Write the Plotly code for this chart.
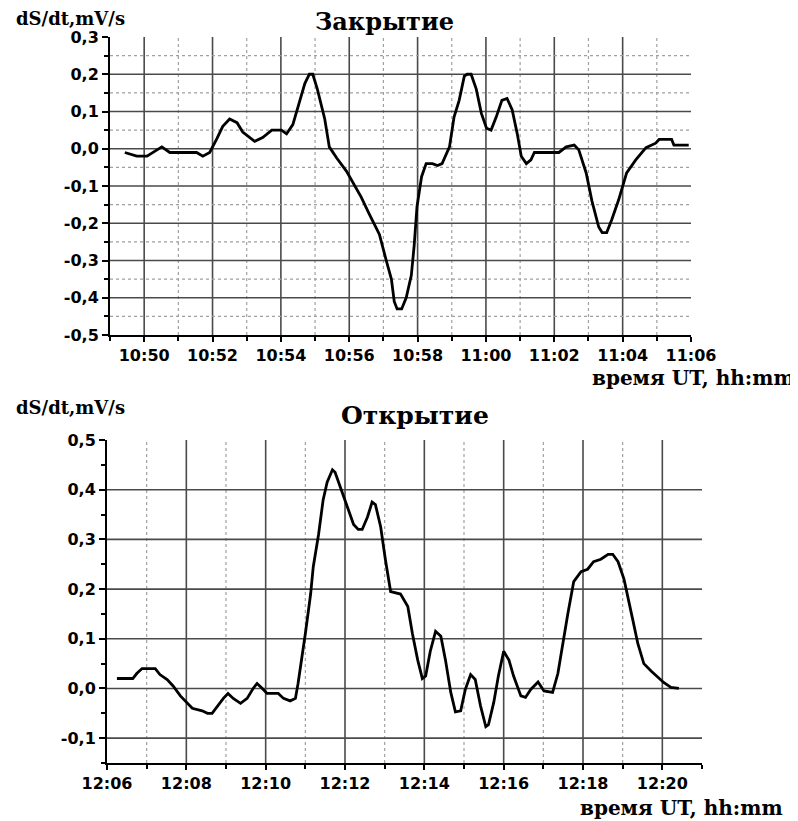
import plotly.graph_objects as go

# ---------------- data ----------------
close_times = ["10:49:26", "10:49:47", "10:50:05", "10:50:15", "10:50:31", "10:50:45", "10:51:20",
               "10:51:32", "10:51:43", "10:51:55", "10:52:07", "10:52:18", "10:52:30", "10:52:43",
               "10:52:53", "10:53:14", "10:53:28", "10:53:44", "10:54:01", "10:54:10", "10:54:21",
               "10:54:33", "10:54:42", "10:54:50", "10:54:56", "10:55:04", "10:55:17", "10:55:25",
               "10:55:38", "10:55:55", "10:56:06", "10:56:21", "10:56:35", "10:56:53", "10:57:05",
               "10:57:14", "10:57:19", "10:57:24", "10:57:32", "10:57:40", "10:57:49", "10:57:54",
               "10:57:59", "10:58:07", "10:58:15", "10:58:26", "10:58:35", "10:58:43", "10:58:56",
               "10:59:04", "10:59:13", "10:59:22", "10:59:27", "10:59:34", "10:59:43", "10:59:52",
               "11:00:01", "11:00:09", "11:00:18", "11:00:28", "11:00:37", "11:00:46", "11:00:55",
               "11:01:02", "11:01:11", "11:01:19", "11:01:25", "11:01:46", "11:02:08", "11:02:21",
               "11:02:35", "11:02:43", "11:02:56", "11:03:06", "11:03:18", "11:03:24", "11:03:32",
               "11:03:41", "11:03:53", "11:04:07", "11:04:23", "11:04:41", "11:04:58", "11:05:04",
               "11:05:26", "11:05:30", "11:05:56"]
close_vals = [-0.01, -0.02, -0.02, -0.01, 0.005, -0.01, -0.01,
              -0.01, -0.02, -0.01, 0.025, 0.06, 0.08, 0.07,
              0.045, 0.02, 0.03, 0.05, 0.05, 0.04, 0.065,
              0.13, 0.175, 0.2, 0.2, 0.16, 0.08, 0.005,
              -0.025, -0.06, -0.09, -0.13, -0.175, -0.23, -0.3,
              -0.35, -0.41, -0.43, -0.43, -0.40, -0.34, -0.26,
              -0.155, -0.075, -0.04, -0.04, -0.045, -0.04, 0.005,
              0.085, 0.13, 0.195, 0.2, 0.2, 0.16, 0.095,
              0.055, 0.05, 0.085, 0.13, 0.135, 0.105, 0.04,
              -0.02, -0.04, -0.03, -0.01, -0.01, -0.01, 0.005,
              0.01, -0.003, -0.065, -0.14, -0.21, -0.225, -0.225,
              -0.19, -0.137, -0.065, -0.03, 0.003, 0.015, 0.025,
              0.025, 0.01, 0.01]

open_times = ["12:06:15", "12:06:39", "12:06:45", "12:06:53", "12:07:13", "12:07:20", "12:07:31",
              "12:07:40", "12:07:51", "12:08:01", "12:08:09", "12:08:24", "12:08:32", "12:08:39",
              "12:08:47", "12:08:56", "12:09:03", "12:09:11", "12:09:22", "12:09:32", "12:09:41",
              "12:09:47", "12:09:55", "12:10:02", "12:10:19", "12:10:27", "12:10:37", "12:10:45",
              "12:10:49", "12:10:55", "12:11:00", "12:11:05", "12:11:08", "12:11:12", "12:11:20",
              "12:11:27", "12:11:33", "12:11:41", "12:11:45", "12:11:53", "12:12:04", "12:12:13",
              "12:12:20", "12:12:26", "12:12:34", "12:12:41", "12:12:46", "12:12:54", "12:13:01",
              "12:13:09", "12:13:24", "12:13:35", "12:13:42", "12:13:50", "12:13:57", "12:14:02",
              "12:14:09", "12:14:17", "12:14:25", "12:14:32", "12:14:40", "12:14:47", "12:14:55",
              "12:15:02", "12:15:10", "12:15:17", "12:15:25", "12:15:33", "12:15:37", "12:15:45",
              "12:15:52", "12:16:00", "12:16:08", "12:16:15", "12:16:26", "12:16:33", "12:16:41",
              "12:16:52", "12:17:01", "12:17:14", "12:17:22", "12:17:29", "12:17:37", "12:17:46",
              "12:17:57", "12:18:07", "12:18:16", "12:18:27", "12:18:38", "12:18:45", "12:18:53",
              "12:19:02", "12:19:09", "12:19:15", "12:19:23", "12:19:32", "12:19:43", "12:19:53",
              "12:20:02", "12:20:13", "12:20:25"]
open_vals = [0.02, 0.02, 0.03, 0.04, 0.04, 0.028, 0.018,
             0.005, -0.015, -0.03, -0.04, -0.045, -0.05, -0.05,
             -0.035, -0.02, -0.01, -0.02, -0.03, -0.02, 0.0,
             0.01, 0.0, -0.01, -0.01, -0.02, -0.025, -0.02,
             0.01, 0.06, 0.11, 0.16, 0.19, 0.245, 0.31,
             0.38, 0.415, 0.44, 0.435, 0.405, 0.365, 0.33,
             0.32, 0.32, 0.345, 0.375, 0.37, 0.325, 0.26,
             0.195, 0.19, 0.165, 0.11, 0.057, 0.02, 0.025,
             0.075, 0.115, 0.105, 0.057, -0.008, -0.047, -0.045,
             -0.002, 0.028, 0.018, -0.035, -0.077, -0.073, -0.028,
             0.025, 0.075, 0.057, 0.025, -0.015, -0.018, -0.002,
             0.013, -0.005, -0.008, 0.03, 0.09, 0.15, 0.215,
             0.235, 0.24, 0.255, 0.26, 0.27, 0.27, 0.255,
             0.22, 0.18, 0.14, 0.09, 0.05, 0.035, 0.022,
             0.012, 0.002, 0.0]

close_yticks = [0.3, 0.2, 0.1, 0.0, -0.1, -0.2, -0.3, -0.4, -0.5]
close_ylabels = ["0,3", "0,2", "0,1", "0,0", "-0,1", "-0,2", "-0,3", "-0,4", "-0,5"]
open_yticks = [0.5, 0.4, 0.3, 0.2, 0.1, 0.0, -0.1]
open_ylabels = ["0,5", "0,4", "0,3", "0,2", "0,1", "0,0", "-0,1"]

title_close = "Закрытие"
title_open = "Открытие"
y_title = "dS/dt,mV/s"
x_title = "время UT, hh:mm"

DAY = "2000-01-01 "

# ---------------- figure ----------------
# the page body has an 8px margin, so the figure is placed at (8, 8) in the window
OFF = 8
W, H = 798 - OFF, 821 - OFF
fig = go.Figure()
fig.add_trace(go.Scatter(x=[DAY + t for t in close_times], y=close_vals, mode="lines",
                         line=dict(color="black", width=2.8), xaxis="x", yaxis="y",
                         showlegend=False))
fig.add_trace(go.Scatter(x=[DAY + t for t in open_times], y=open_vals, mode="lines",
                         line=dict(color="black", width=2.8), xaxis="x2", yaxis="y2",
                         showlegend=False))

tickfont = dict(family="DejaVu Sans", size=16, color="black", weight="bold")


def px_x(p):
    return (p - OFF) / W


def px_y(p):
    return 1 - (p - OFF) / H


common_x = dict(type="date", tickformat="%H:%M", dtick=120000, ticks="outside", ticklen=5,
                tickwidth=2, tickcolor="black", showline=True, linecolor="black", linewidth=2,
                tickfont=tickfont, zeroline=False, showgrid=False, automargin=False)
common_y = dict(tickmode="array", ticks="outside", ticklen=6, tickwidth=2, tickcolor="black",
                showline=True, linecolor="black", linewidth=2, tickfont=tickfont,
                zeroline=False, showgrid=False, automargin=False)
minor_ticks = dict(ticks="outside", ticklen=4, tickwidth=2, tickcolor="black", showgrid=False)

fig.update_layout(
    width=W, height=H,
    margin=dict(l=0, r=0, t=0, b=0, autoexpand=False),
    paper_bgcolor="white", plot_bgcolor="white",
    xaxis=dict(domain=[px_x(110), px_x(691)], anchor="y",
               range=[DAY + "10:49:00", DAY + "11:06:00"], tick0=DAY + "10:50:00",
               minor=dict(dtick=60000, tick0=DAY + "10:49:00", **minor_ticks),
               **common_x),
    yaxis=dict(domain=[px_y(335), px_y(37)], anchor="x", range=[-0.5, 0.3],
               tickvals=close_yticks, ticktext=close_ylabels,
               minor=dict(dtick=0.05, tick0=0, **minor_ticks),
               **common_y),
    xaxis2=dict(domain=[px_x(107), px_x(702)], anchor="y2",
                range=[DAY + "12:06:00", DAY + "12:21:00"], tick0=DAY + "12:06:00",
                minor=dict(dtick=60000, tick0=DAY + "12:07:00", **minor_ticks),
                **common_x),
    yaxis2=dict(domain=[px_y(763), px_y(440)], anchor="x2", range=[-0.15, 0.5],
                tickvals=open_yticks, ticktext=open_ylabels,
                minor=dict(dtick=0.05, tick0=0, **minor_ticks),
                **common_y),
)

# ---------------- grid (drawn as shapes so that edge lines are omitted) ----------------
SOLID = dict(color="#4a4a4a", width=1.6)
DOTTED = dict(color="#a0a0a0", width=1.2, dash="dot")
shapes = []


def vline(xref, yref, t, style):
    shapes.append(dict(type="line", xref=xref, yref=yref + " domain", x0=DAY + t, x1=DAY + t,
                       y0=0, y1=1, line=style, layer="below"))


def hline(xref, yref, v, style):
    shapes.append(dict(type="line", xref=xref + " domain", yref=yref, x0=0, x1=1,
                       y0=v, y1=v, line=style, layer="below"))


# top panel: 10:49 .. 11:06
for m in range(50, 66):
    hh, mm = (10, m) if m < 60 else (11, m - 60)
    t = f"{hh:02d}:{mm:02d}:00"
    vline("x", "y", t, SOLID if m % 2 == 0 else DOTTED)
for k in range(-9, 6):
    hline("x", "y", round(k * 0.05, 2), SOLID if k % 2 == 0 else DOTTED)
# bottom panel: 12:06 .. 12:21
for m in range(7, 21):
    t = f"12:{m:02d}:00"
    vline("x2", "y2", t, SOLID if m % 2 == 0 else DOTTED)
for k in range(-1, 5):
    hline("x2", "y2", round(k * 0.1, 2), SOLID)

fig.update_layout(shapes=shapes)

serif = dict(family="DejaVu Serif", color="black", weight="bold")
ann = [
    dict(text=y_title, x=px_x(14), y=px_y(18), xanchor="left", yanchor="middle",
         font=dict(size=18, **serif)),
    dict(text=title_close, x=px_x(384), y=px_y(21), xanchor="center", yanchor="middle",
         font=dict(size=24, **serif)),
    dict(text=x_title, x=px_x(797), y=px_y(378), xanchor="right", yanchor="middle",
         font=dict(size=20, **serif)),
    dict(text=y_title, x=px_x(14), y=px_y(407), xanchor="left", yanchor="middle",
         font=dict(size=18, **serif)),
    dict(text=title_open, x=px_x(415), y=px_y(415), xanchor="center", yanchor="middle",
         font=dict(size=25, **serif)),
    dict(text=x_title, x=px_x(785), y=px_y(808), xanchor="right", yanchor="middle",
         font=dict(size=20, **serif)),
]
for a in ann:
    a.update(xref="paper", yref="paper", showarrow=False)
fig.update_layout(annotations=ann)

fig.write_html("out.html")
